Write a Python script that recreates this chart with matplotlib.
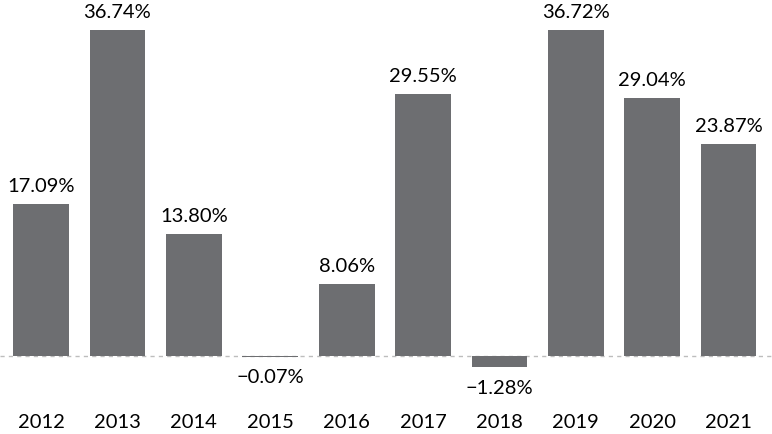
import matplotlib

matplotlib.use("Agg")

import matplotlib.pyplot as plt

YEARS = ["2012", "2013", "2014", "2015", "2016", "2017", "2018", "2019", "2020", "2021"]
RETURNS = [17.09, 36.74, 13.80, -0.07, 8.06, 29.55, -1.28, 36.72, 29.04, 23.87]

BAR_COLOR = "#6d6e71"

plt.rcParams["font.family"] = ["Lato", "DejaVu Sans"]

fig = plt.figure(figsize=(7.72, 4.34), dpi=100)
ax = fig.add_axes([0, 0, 1, 1])

xs = list(range(len(YEARS)))
ax.bar(xs, RETURNS, width=0.73, color=BAR_COLOR, zorder=2)
ax.axhline(0, color="#bdbdbd", linewidth=1.0, linestyle=(0, (3, 3)), zorder=1)

for x, v in zip(xs, RETURNS):
    label = f"{v:.2f}%".replace("-", "\u2212")
    if v >= 0:
        ax.annotate(label, (x, v), xytext=(0, 6.5), textcoords="offset points",
                    ha="center", va="bottom", fontsize=14.5, color="#000000")
    else:
        ax.annotate(label, (x, v), xytext=(0, -9), textcoords="offset points",
                    ha="center", va="top", fontsize=14.5, color="#000000")
    ax.text(x, -7.55, YEARS[x], ha="center", va="center", fontsize=14.5, color="#000000")

ax.set_xlim(-0.537, 9.568)
ax.set_ylim(-8.79, 40.12)
ax.axis("off")

fig.savefig("out.png", dpi=100)
